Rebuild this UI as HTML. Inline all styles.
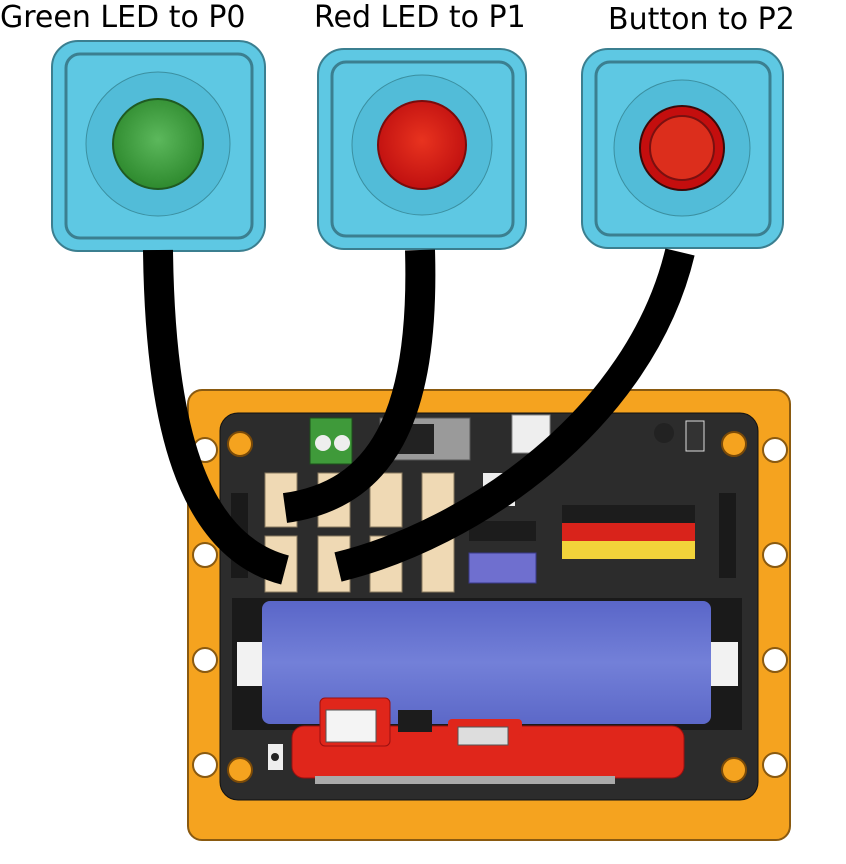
<!DOCTYPE html>
<html><head><style>
html,body{margin:0;padding:0;background:#fff;width:846px;height:864px;overflow:hidden}
svg{display:block}
text{font-family:"DejaVu Sans","Liberation Sans",sans-serif;font-size:30px;fill:#000}
</style></head><body>
<svg width="846" height="864" viewBox="0 0 846 864" xmlns="http://www.w3.org/2000/svg">
<defs>
<radialGradient id="gg" cx="50%" cy="45%" r="55%"><stop offset="0" stop-color="#5cb85c"/><stop offset="1" stop-color="#2e8a2e"/></radialGradient>
<radialGradient id="rg" cx="50%" cy="45%" r="55%"><stop offset="0" stop-color="#e8331f"/><stop offset="1" stop-color="#c01010"/></radialGradient>
<linearGradient id="bat" x1="0" y1="0" x2="0" y2="1"><stop offset="0" stop-color="#5a66c8"/><stop offset="0.5" stop-color="#7380d8"/><stop offset="1" stop-color="#5c68c8"/></linearGradient>
</defs>
<text x="0" y="27">Green LED to P0</text>
<text x="314" y="27">Red LED to P1</text>
<text x="608" y="29">Button to P2</text>

<!-- module 1 -->
<rect x="52" y="41" width="213" height="210" rx="26" fill="#5ec8e3" stroke="#3b7f90" stroke-width="2"/>
<rect x="66" y="54" width="186" height="184" rx="14" fill="none" stroke="#3b7f90" stroke-width="3"/>
<circle cx="158" cy="144" r="72" fill="#52bcd8" stroke="#3b8fa0" stroke-width="1"/>
<circle cx="158" cy="144" r="45" fill="url(#gg)" stroke="#1f5a22" stroke-width="2"/>
<!-- module 2 -->
<rect x="318" y="49" width="208" height="200" rx="26" fill="#5ec8e3" stroke="#3b7f90" stroke-width="2"/>
<rect x="332" y="62" width="181" height="174" rx="14" fill="none" stroke="#3b7f90" stroke-width="3"/>
<circle cx="422" cy="145" r="70" fill="#52bcd8" stroke="#3b8fa0" stroke-width="1"/>
<circle cx="422" cy="145" r="44" fill="url(#rg)" stroke="#7a0b0b" stroke-width="2"/>
<!-- module 3 -->
<rect x="582" y="49" width="201" height="199" rx="26" fill="#5ec8e3" stroke="#3b7f90" stroke-width="2"/>
<rect x="596" y="62" width="174" height="173" rx="14" fill="none" stroke="#3b7f90" stroke-width="3"/>
<circle cx="682" cy="148" r="68" fill="#52bcd8" stroke="#3b8fa0" stroke-width="1"/>
<circle cx="682" cy="148" r="42" fill="#c40e0e" stroke="#3a0a0a" stroke-width="2"/>
<circle cx="682" cy="148" r="32" fill="#dc2e1c" stroke="#7a1010" stroke-width="2"/>

<!-- board frame -->
<rect x="188" y="390" width="602" height="450" rx="14" fill="#f5a31f" stroke="#8a5a10" stroke-width="2"/>
<g fill="#fff" stroke="#8a5a10" stroke-width="2">
<circle cx="205" cy="450" r="12"/><circle cx="205" cy="555" r="12"/><circle cx="205" cy="660" r="12"/><circle cx="205" cy="765" r="12"/>
<circle cx="775" cy="450" r="12"/><circle cx="775" cy="555" r="12"/><circle cx="775" cy="660" r="12"/><circle cx="775" cy="765" r="12"/>
</g>
<rect x="220" y="413" width="538" height="387" rx="18" fill="#2c2c2c" stroke="#111" stroke-width="1"/>
<g fill="#f5a31f" stroke="#7a4a08" stroke-width="2">
<circle cx="240" cy="444" r="12"/><circle cx="734" cy="444" r="12"/><circle cx="240" cy="770" r="12"/><circle cx="734" cy="770" r="12"/>
</g>
<!-- top components -->
<rect x="310" y="418" width="42" height="46" fill="#3f9a3a" stroke="#1c4e1a"/>
<circle cx="323" cy="443" r="8" fill="#eee"/><circle cx="342" cy="443" r="8" fill="#eee"/>
<rect x="380" y="418" width="90" height="42" fill="#9a9a9a" stroke="#555"/>
<rect x="398" y="424" width="36" height="30" fill="#222"/>
<rect x="512" y="415" width="38" height="38" fill="#eee" stroke="#888"/>
<circle cx="664" cy="433" r="10" fill="#222"/>
<rect x="686" y="421" width="18" height="30" fill="#333" stroke="#ddd"/>
<!-- side headers -->
<rect x="231" y="493" width="17" height="85" fill="#1a1a1a"/>
<rect x="719" y="493" width="17" height="85" fill="#1a1a1a"/>
<!-- connectors -->
<g fill="#efd9b4" stroke="#8a7a60" stroke-width="1">
<rect x="265" y="473" width="32" height="54"/><rect x="318" y="473" width="32" height="54"/>
<rect x="370" y="473" width="32" height="54"/><rect x="422" y="473" width="32" height="119"/>
<rect x="265" y="536" width="32" height="56"/><rect x="318" y="536" width="32" height="56"/>
<rect x="370" y="536" width="32" height="56"/>
</g>
<rect x="483" y="473" width="32" height="33" fill="#eee"/>
<rect x="469" y="521" width="67" height="20" fill="#1c1c1c"/>
<rect x="469" y="553" width="67" height="30" fill="#6f6fcf" stroke="#3a3a8a"/>
<rect x="562" y="505" width="133" height="18" fill="#1c1c1c"/>
<rect x="562" y="523" width="133" height="18" fill="#d9231b"/>
<rect x="562" y="541" width="133" height="18" fill="#f2d33a"/>
<!-- battery -->
<rect x="232" y="598" width="510" height="132" fill="#1a1a1a"/>
<rect x="237" y="642" width="28" height="44" fill="#f2f2f2"/>
<rect x="710" y="642" width="28" height="44" fill="#f2f2f2"/>
<rect x="262" y="601" width="449" height="123" rx="8" fill="url(#bat)"/>
<!-- red board -->
<rect x="292" y="726" width="392" height="52" rx="12" fill="#e0261b" stroke="#9a1010"/>
<rect x="320" y="698" width="70" height="48" rx="5" fill="#e0261b" stroke="#9a1010"/>
<rect x="326" y="710" width="50" height="32" fill="#f4f4f4" stroke="#555"/>
<rect x="448" y="719" width="74" height="16" rx="4" fill="#e0261b"/>
<rect x="458" y="727" width="50" height="18" fill="#ddd" stroke="#555"/>
<rect x="398" y="710" width="34" height="22" fill="#1c1c1c"/>
<rect x="268" y="744" width="15" height="26" fill="#eee"/><circle cx="275" cy="757" r="4" fill="#222"/>
<rect x="315" y="776" width="300" height="8" fill="#aaa"/>
<!-- cables -->
<g fill="none" stroke="#000" stroke-width="30">
<path d="M158,250 C160,420 190,545 285,570"/>
<path d="M420,250 C425,420 380,495 285,508"/>
<path d="M680,252 C640,420 470,535 338,567"/>
</g>
</svg>
</body></html>
